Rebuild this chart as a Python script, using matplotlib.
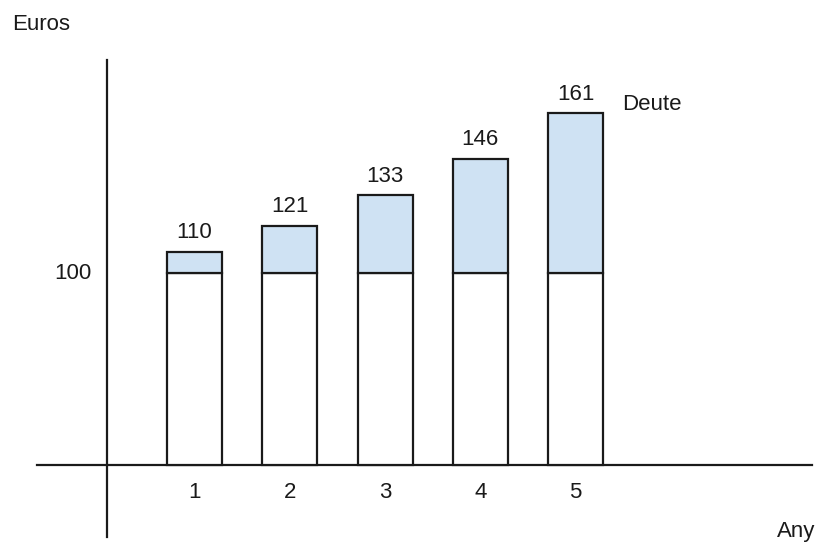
import numpy as np
import matplotlib
matplotlib.use('Agg')
import matplotlib.pyplot as plt

# Data
years = [1, 2, 3, 4, 5]
base = [100, 100, 100, 100, 100]
totals = [110, 121, 133, 146, 161]
debt = [t - b for t, b in zip(totals, base)]

plt.rcParams['font.family'] = ['Liberation Sans', 'DejaVu Sans']
ink = '#1a1a1a'

# The sketch is not to scale above 100: it grows faster there
C1, C2 = 1.0724, 0.004818


def fwd(y):
    y = np.asarray(y, dtype=float)
    e = np.maximum(y - 100, 0)
    return np.where(y > 100, 100 + C1 * e + C2 * e ** 2, y)


def inv(t):
    t = np.asarray(t, dtype=float)
    d = np.maximum(t - 100, 0)
    e = (-C1 + np.sqrt(C1 ** 2 + 4 * C2 * d)) / (2 * C2)
    return np.where(t > 100, 100 + e, t)


fig = plt.figure(figsize=(8.17, 5.43), dpi=100)
ax = fig.add_axes([0, 0, 1, 1])
ax.set_yscale('function', functions=(fwd, inv))
ax.set_xlim(-1.042, 7.535)
ax.set_ylim(-40.6, float(inv(242.2)))
ax.axis('off')

width = 0.577
ax.bar(years, base, width=width, color='white', edgecolor=ink, linewidth=1.6, zorder=2)
ax.bar(years, debt, bottom=base, width=width, color='#cfe2f3', edgecolor=ink,
       linewidth=1.6, zorder=2)

# Hand-drawn style axes
ax.axhline(0, xmin=37 / 817, xmax=812 / 817, color=ink, linewidth=1.6, zorder=1)
ax.axvline(0.081, ymin=6 / 543, ymax=483 / 543, color=ink, linewidth=1.6, zorder=1)

for x, t in zip(years, totals):
    ax.annotate(str(t), xy=(x, t), xytext=(0, 6), textcoords='offset points',
                ha='center', va='bottom', fontsize=16, color=ink)
    ax.annotate(str(x), xy=(x, 0), xytext=(0, -19.5), textcoords='offset points',
                ha='center', va='center', fontsize=16, color=ink)

ax.annotate('Deute', xy=(years[-1] + width / 2, totals[-1]), xytext=(14, 6),
            textcoords='offset points', ha='left', va='center', fontsize=16, color=ink)
ax.annotate('100', xy=(0.081, 100), xytext=(-11, 0), textcoords='offset points',
            ha='right', va='center', fontsize=16, color=ink)
ax.text(12 / 817, 1 - 25 / 543, 'Euros', transform=ax.transAxes, ha='left',
        va='center', fontsize=16, color=ink)
ax.text(815 / 817, 1 - 532 / 543, 'Any', transform=ax.transAxes, ha='right',
        va='center', fontsize=16, color=ink)

fig.savefig('out.png', dpi=100)
